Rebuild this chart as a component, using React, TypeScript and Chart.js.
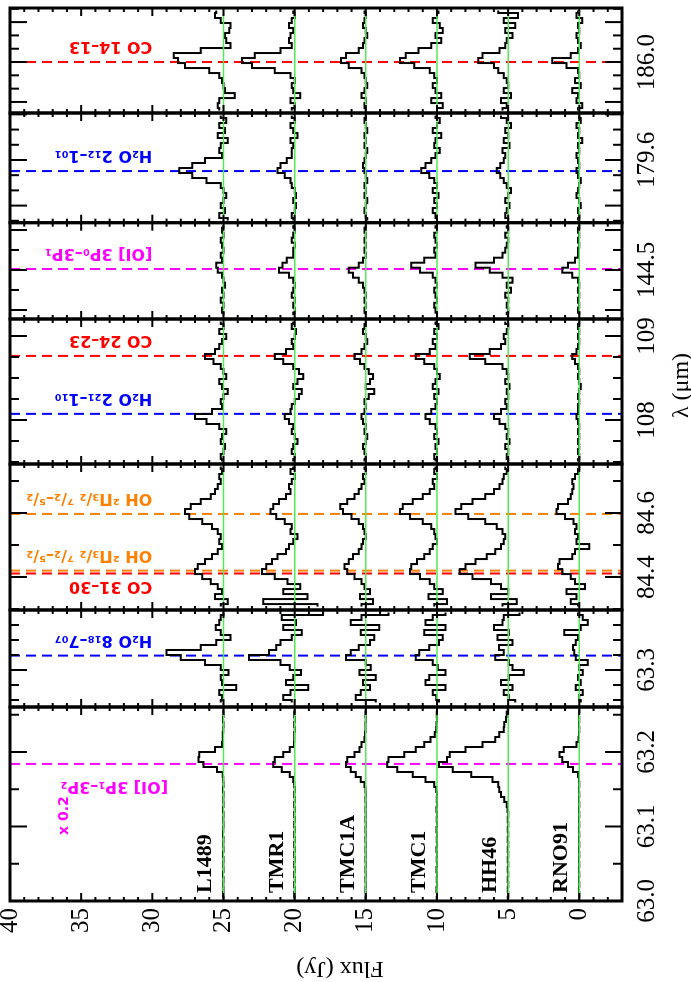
import { useEffect, useRef } from "react";
import { Chart, registerables } from "chart.js";

Chart.register(...registerables);

// Sources, each spectrum shifted by a constant flux offset (Jy)
const sourceNames = ["L1489", "TMR1", "TMC1A", "TMC1", "HH46", "RNO91"];
const sourceOffsets = [25, 20, 15, 10, 5, 0];

// Wavelength windows (µm). Bins run from the long-wavelength edge downward.
const panelIds = ["w1", "w2", "w3", "w4", "w5", "w6", "w7"];
const panelMin = [63.0, 63.2383, 84.297, 107.476, 144.01, 179.1875, 185.617];
const panelMax = [63.2604, 63.4, 84.753, 109.2024, 144.973, 179.909, 186.406];
const binWidth = [0.006711, 0.008333, 0.015625, 0.05952, 0.05, 0.0329, 0.0376];

// Axis ticks per window
const majorTicks = [
  [63.0, 63.1, 63.2],
  [63.3],
  [84.4, 84.6],
  [108, 109],
  [144.1, 144.5, 144.9],
  [179.3, 179.6, 179.9],
  [185.7, 186.0, 186.3],
];
const minorTicks = [
  [63.05, 63.15, 63.25],
  [63.25, 63.275, 63.325, 63.35, 63.375],
  [84.3, 84.5, 84.7],
  [107.5, 107.75, 108.25, 108.5, 108.75],
  [144.3, 144.7],
  [179.2, 179.4, 179.5, 179.7, 179.8],
  [185.8, 185.9, 186.1, 186.2, 186.4],
];
const labelTicks = [[63.0, 63.1, 63.2], [63.3], [84.4, 84.6], [108, 109], [144.5], [179.6], [186.0]];
const labelTexts = [["63.0", "63.1", "63.2"], ["63.3"], ["84.4", "84.6"], ["108", "109"], ["144.5"], ["179.6"], ["186.0"]];
const fluxTicks = [0, 5, 10, 15, 20, 25, 30, 35, 40];

// Continuum-subtracted flux (Jy) per bin; rows follow sourceNames
const fluxW1 = [
  [0.02, 0.0, 0.03, 0.0, 0.02, 0.05, 0.05, 0.1, 0.6, 1.7, 1.76, 1.4, 0.45, 0.05, 0.02, 0.0, 0.03, 0.0, 0.02, 0.0, 0.03, 0.0, 0.02, 0.0, 0.02, 0.03, 0.0, 0.02, 0.0, 0.03, 0.0, 0.02, 0.0, 0.03, 0.0, 0.02, 0.0, 0.03, 0.0],
  [0.0, 0.02, 0.0, 0.03, 0.0, 0.02, 0.03, 0.05, 0.35, 0.8, 1.4, 1.5, 0.9, 0.35, 0.1, 0.03, 0.0, 0.02, 0.0, 0.03, 0.0, 0.02, 0.0, 0.03, 0.0, 0.02, 0.0, 0.03, 0.0, 0.02, 0.0, 0.03, 0.0, 0.02, 0.0, 0.03, 0.0, 0.02, 0.0],
  [0.0, 0.02, 0.0, 0.03, 0.02, 0.05, 0.1, 0.3, 0.45, 0.8, 1.3, 1.4, 1.05, 0.7, 0.35, 0.1, 0.03, 0.0, 0.02, 0.0, 0.03, 0.0, 0.02, 0.0, 0.03, 0.0, 0.02, 0.0, 0.03, 0.0, 0.02, 0.0, 0.03, 0.0, 0.02, 0.0, 0.03, 0.0, 0.02],
  [0.0, 0.02, 0.0, 0.03, 0.05, 0.15, 0.45, 0.9, 1.5, 2.3, 3.4, 3.5, 2.8, 1.7, 0.8, 0.2, 0.05, 0.0, 0.02, 0.0, 0.03, 0.0, 0.02, 0.0, 0.03, 0.0, 0.02, 0.0, 0.03, 0.0, 0.02, 0.0, 0.03, 0.0, 0.02, 0.0, 0.03, 0.0, 0.02],
  [0.05, 0.1, 0.15, 0.28, 0.3, 0.63, 0.9, 1.8, 3.0, 4.1, 4.3, 4.85, 3.9, 2.6, 1.1, 0.7, 0.63, 0.5, 0.28, 0.1, 0.05, 0.0, 0.03, 0.0, 0.02, 0.0, 0.03, 0.0, 0.02, 0.0, 0.03, 0.0, 0.02, 0.0, 0.03, 0.0, 0.02, 0.0, 0.03],
  [0.0, 0.02, 0.0, 0.03, 0.0, 0.02, 0.05, 0.2, 1.1, 1.4, 1.2, 0.8, 0.45, 0.1, 0.03, 0.0, 0.02, 0.0, 0.03, 0.0, 0.02, 0.0, 0.03, 0.0, 0.02, 0.0, 0.03, 0.0, 0.02, 0.0, 0.03, 0.0, 0.02, 0.0, 0.03, 0.0, 0.02, 0.0, 0.03],
];
const fluxW2 = [
  [0.0, 0.2, 0.3, 0.55, 0.2, -0.5, 0.5, 1.6, 4.0, 3.0, 1.3, 0.2, -0.35, 0.2, 0.1, -0.9, 0.3, 0.1, 0.2],
  [-2.0, 0.9, -0.1, 0.8, -0.5, 0.2, 1.0, 1.3, 1.8, 3.2, 1.0, 0.35, -0.45, 0.1, 0.6, -0.95, 0.3, 0.8, 0.2],
  [-1.6, 0.3, 1.05, -0.95, 0.35, -0.6, -0.3, 0.5, 1.05, 1.4, 0.0, -0.35, 0.45, -0.7, 0.2, -0.3, 0.35, 0.7, -0.7],
  [-0.6, 0.3, 0.8, -0.6, 0.9, -0.4, -0.15, 0.55, 1.25, 1.5, 0.3, -0.05, -0.6, 0.55, 0.8, -0.6, 0.3, 0.05, -0.15],
  [-0.8, 0.3, 0.4, 1.0, -0.05, 0.75, -0.3, 0.65, 0.3, 0.9, -0.05, -0.3, -1.1, -0.05, 0.5, -0.3, 0.3, -0.05, -0.5],
  [0.1, -0.25, -0.6, -0.1, 1.05, 0.1, 0.25, 0.45, 0.35, 0.25, -0.6, 0.0, -0.25, 0.1, -0.1, 0.25, -0.25, 0.0, -0.1],
];
const fluxW3 = [
  [0.2, 0.1, 0.3, 0.2, 0.4, 0.6, 0.9, 1.6, 2.3, 2.7, 2.4, 1.5, 0.8, 0.4, 0.2, 0.3, 0.1, 0.4, 0.8, 1.3, 1.8, 2.0, 1.5, 0.9, 0.4, 0.1, 0.6, -0.3, 0.2],
  [0.1, 0.3, 0.0, 0.2, 0.4, 0.3, 0.6, 1.1, 1.5, 1.7, 1.3, 0.7, 0.2, 0.3, -0.2, 0.1, 0.4, 0.6, 1.2, 1.6, 2.0, 2.3, 1.4, 0.5, -0.4, 0.8, -0.9, 2.2, -1.6],
  [0.1, 0.0, 0.2, 0.1, 0.3, 0.5, 0.8, 1.3, 1.8, 1.6, 1.0, 0.5, 0.2, 0.1, 0.0, 0.2, 0.3, 0.5, 0.9, 1.2, 1.5, 1.3, 0.8, 0.3, 0.1, -0.3, 0.4, -0.5, 0.3],
  [0.1, 0.2, 0.0, 0.3, 0.2, 0.5, 1.0, 1.7, 2.4, 2.6, 1.9, 1.0, 0.4, 0.2, 0.1, 0.0, 0.3, 0.5, 0.9, 1.4, 1.8, 1.9, 1.2, 0.5, 0.2, -0.4, 0.6, -0.7, 0.2],
  [0.2, 0.1, 0.3, 0.4, 0.6, 1.0, 1.6, 2.5, 3.3, 3.7, 2.8, 1.6, 0.8, 0.4, 0.2, 0.3, 0.5, 0.9, 1.5, 2.3, 3.0, 3.4, 2.5, 1.2, 0.5, 0.0, 1.2, -0.6, 0.4],
  [0.0, 0.1, 0.3, 0.5, 0.4, 0.5, 0.6, 0.8, 1.5, 1.6, 1.0, 0.4, 0.2, 0.3, 0.1, 0.2, -0.7, 0.3, 0.5, 1.4, 1.5, 1.2, 0.6, 0.3, -0.4, 0.9, 0.2, 0.6, 0.1],
];
const fluxW4 = [
  [0.2, 0.0, 0.3, -0.2, 0.1, 0.3, 0.6, 1.3, 0.7, 0.2, 0.0, -0.2, 0.3, 0.1, -0.3, 0.0, 0.2, 0.1, 0.8, 2.0, 1.2, 0.3, -0.2, 0.1, 0.2, -0.1, 0.0, 0.2, 0.1],
  [0.1, 0.2, -0.1, 0.0, 0.2, 0.1, 0.6, 1.4, 0.8, 0.1, -0.3, -0.6, -0.2, 0.1, -0.5, -0.3, 0.0, 0.2, 0.3, 0.7, 0.4, 0.1, 0.2, 0.0, -0.2, 0.1, 0.2, 0.0, 0.1],
  [0.0, 0.1, 0.2, 0.0, -0.1, 0.1, 0.3, 0.8, 0.4, 0.1, -0.2, -0.5, -0.3, 0.0, -0.6, -0.2, 0.1, 0.0, 0.1, 0.3, 0.2, 0.0, 0.1, -0.1, 0.0, 0.2, 0.1, 0.0, 0.1],
  [0.1, -0.1, 0.2, 0.0, 0.3, 0.1, 0.5, 1.5, 0.9, 0.2, 0.0, -0.2, 0.1, 0.3, -0.1, 0.2, 0.0, 0.1, 0.4, 0.8, 0.5, 0.1, 0.0, 0.2, -0.1, 0.1, 0.0, 0.2, 0.1],
  [0.2, 0.0, 0.1, 0.3, 0.2, 0.5, 1.3, 2.7, 1.6, 0.4, 0.1, 0.0, 0.2, -0.1, 0.1, 0.0, 0.2, 0.1, 0.5, 1.0, 0.6, 0.2, 0.0, 0.1, -0.1, 0.2, 0.0, 0.1, 0.0],
  [0.0, 0.1, 0.0, 0.1, 0.0, 0.1, 0.2, 0.5, 0.3, 0.1, 0.0, 0.1, 0.0, -0.1, 0.0, 0.1, 0.0, 0.1, 0.1, 0.2, 0.1, 0.0, 0.1, 0.0, 0.1, 0.0, 0.1, 0.0, 0.1],
];
const fluxW5 = [
  [0.0, 0.1, 0.0, 0.2, 0.1, 0.0, 0.2, 0.1, 0.5, 0.4, 0.1, 0.0, -0.1, 0.1, 0.0, 0.2, 0.0, 0.1, 0.0],
  [0.1, 0.0, 0.1, 0.2, 0.0, 0.1, 0.1, 0.55, 0.85, 1.1, 0.4, 0.1, 0.0, 0.1, 0.2, 0.0, 0.1, 0.0, 0.1],
  [0.0, 0.1, 0.0, 0.1, 0.0, 0.1, 0.0, 0.2, 0.5, 1.2, 0.9, 0.5, 0.2, 0.1, 0.0, 0.1, 0.0, 0.1, 0.0],
  [0.1, 0.0, 0.2, 0.1, 0.0, 0.2, 0.1, 0.9, 1.8, 1.2, 0.3, 0.1, 0.0, 0.2, 0.1, 0.0, 0.2, 0.1, 0.0],
  [0.1, 0.0, 0.2, 0.0, 0.1, 0.2, 0.4, 1.0, 2.3, 1.3, 0.4, -0.3, 0.1, -0.2, 0.2, 0.0, 0.1, 0.0, 0.1],
  [0.0, 0.1, 0.0, 0.1, 0.0, 0.1, 0.1, 0.3, 0.8, 1.2, 0.5, 0.1, 0.0, 0.1, 0.0, 0.1, 0.0, 0.1, 0.0],
];
const fluxW6 = [
  [0.2, -0.2, 0.3, -0.1, 0.4, -0.3, 0.2, 0.3, 0.1, 1.3, 2.2, 3.1, 2.2, 1.2, 0.2, 0.0, -0.2, 0.0, 0.2, -0.1, 0.3, -0.3],
  [0.2, 0.0, 0.3, 0.1, -0.2, 0.3, 0.1, 0.2, 0.2, 0.55, 1.0, 1.2, 0.7, 0.3, 0.2, 0.0, -0.1, 0.1, -0.1, 0.0, 0.2, 0.1],
  [0.0, 0.1, 0.0, -0.1, 0.1, 0.0, 0.1, -0.1, 0.0, 0.1, 0.2, 0.1, 0.0, -0.1, 0.1, 0.0, 0.1, -0.1, 0.0, 0.1, 0.0, -0.1],
  [0.1, -0.2, 0.0, 0.3, -0.3, 0.1, 0.2, -0.2, 0.1, 0.4, 0.8, 1.1, 0.55, 0.2, 0.0, 0.3, -0.1, 0.2, 0.0, 0.3, 0.1, 0.0],
  [0.5, 0.1, -0.2, 0.2, 0.0, 0.3, -0.1, 0.4, 0.2, 0.3, 0.55, 0.8, 0.55, 0.3, 0.1, -0.2, 0.0, 0.2, -0.1, 0.1, 0.2, 0.0],
  [0.0, -0.1, 0.2, 0.0, 0.1, -0.2, 0.1, 0.0, 0.2, 0.1, 0.0, 0.2, 0.1, -0.1, 0.0, 0.1, 0.2, 0.0, -0.1, 0.1, 0.0, 0.1],
];
const fluxW7 = [
  [0.5, 0.6, 0.2, -0.5, -0.4, -0.1, -0.2, -0.5, 1.6, 3.5, 3.2, 2.7, 1.0, 0.3, 0.1, 0.0, -0.1, -0.8, 0.3, 0.4, 0.3],
  [0.1, 0.0, 0.2, 0.4, 0.1, 0.3, 0.4, 0.2, 1.0, 2.8, 3.7, 3.0, 1.4, 0.3, 0.0, 0.2, 0.1, -0.4, 0.3, 0.0, 0.2],
  [0.1, 0.0, 0.1, 0.2, 0.0, -0.1, 0.1, 0.2, 0.5, 1.4, 1.75, 1.2, 0.3, 0.1, 0.0, -0.1, 0.1, 0.3, 0.0, 0.1, 0.0],
  [-0.1, 0.0, 0.3, -0.2, -0.4, 0.1, -0.3, 0.4, 1.3, 2.2, 2.6, 1.6, 0.5, 0.2, 0.0, 0.3, 0.1, -0.3, 0.4, -0.4, 0.0],
  [0.7, -0.7, 0.3, -0.5, 0.2, -0.3, 0.1, 0.2, 0.6, 1.8, 2.1, 1.0, 0.7, 0.3, 0.1, 0.0, 0.3, -0.2, 0.5, 0.1, 0.4],
  [0.1, 0.2, -0.2, 0.1, 0.0, 0.2, 0.1, -0.1, 0.1, 0.6, 1.9, 0.9, 0.1, 0.0, 0.3, -0.1, 0.5, 0.1, 0.2, -0.2, 0.1],
];
const panelFlux = [fluxW1, fluxW2, fluxW3, fluxW4, fluxW5, fluxW6, fluxW7];

// Line identifications
const lineWave = [63.184, 63.324, 84.411, 84.42, 84.597, 108.073, 108.763, 144.51, 179.527, 186.0];
const linePanel = [0, 1, 2, 2, 2, 3, 3, 4, 5, 6];
const lineName = [
  "[OI] 3P₁–3P₂",
  "H₂O 8₁₈–7₀₇",
  "CO 31–30",
  "OH ²Π₃/₂ ⁷/₂–⁵/₂",
  "OH ²Π₃/₂ ⁷/₂–⁵/₂",
  "H₂O 2₂₁–1₁₀",
  "CO 24–23",
  "[OI] 3P₀–3P₁",
  "H₂O 2₁₂–1₀₁",
  "CO 14–13",
];
const lineColor = ["#ff00ff", "#0000ff", "#ff0000", "#ff8000", "#ff8000", "#0000ff", "#ff0000", "#ff00ff", "#0000ff", "#ff0000"];
// Label placement: baseline shift from the line (px) and flux where the text begins
const labelShift = [-18, 20, -9, 20, 20, 20, 20, 20, 20, 20];
const labelStartFlux = [28.9, 30.0, 30.0, 30.0, 30.0, 30.0, 30.0, 30.0, 30.0, 30.0];

// Horizontal share of each window (px)
const panelWeight = [194, 97, 146, 145, 96.3, 109.7, 105];

const serif = '"Liberation Serif", "Times New Roman", serif';
const sans = '"DejaVu Sans", sans-serif';

const decorations = {
  id: "decorations",
  beforeDatasetsDraw(chart: any) {
    const { ctx, chartArea } = chart;
    ctx.save();
    ctx.beginPath();
    ctx.rect(chartArea.left, chartArea.top, chartArea.right - chartArea.left, chartArea.bottom - chartArea.top);
    ctx.clip();
    ctx.lineWidth = 2;
    ctx.setLineDash([10, 6]);
    lineWave.forEach((w, i) => {
      const xs = chart.scales[panelIds[linePanel[i]]];
      const x = xs.getPixelForValue(w);
      ctx.strokeStyle = lineColor[i];
      ctx.beginPath();
      ctx.moveTo(x, chartArea.top);
      ctx.lineTo(x, chartArea.bottom);
      ctx.stroke();
    });
    ctx.restore();
  },
  afterDatasetsDraw(chart: any) {
    const { ctx, chartArea } = chart;
    const ys = chart.scales.y;
    const T = chartArea.top;
    const B = chartArea.bottom;
    ctx.save();

    // zero-level of each source
    ctx.strokeStyle = "rgb(80,235,80)";
    ctx.lineWidth = 1.5;
    sourceOffsets.forEach((off) => {
      const y = ys.getPixelForValue(off);
      ctx.beginPath();
      ctx.moveTo(chartArea.left, y);
      ctx.lineTo(chartArea.right, y);
      ctx.stroke();
    });

    // window frames with inward ticks
    ctx.strokeStyle = "#000";
    const seg = (x1: number, y1: number, x2: number, y2: number) => {
      ctx.beginPath();
      ctx.moveTo(x1, y1);
      ctx.lineTo(x2, y2);
      ctx.stroke();
    };
    panelIds.forEach((id, p) => {
      const xs = chart.scales[id];
      const L = xs.left;
      const R = xs.right;
      ctx.lineWidth = 2;
      const marks = (vals: number[], len: number) =>
        vals.forEach((v) => {
          const x = xs.getPixelForValue(v);
          seg(x, B, x, B - len);
          seg(x, T, x, T + len);
        });
      marks(majorTicks[p], 17);
      marks(minorTicks[p], 9);
      for (let f = Math.ceil(ys.min); f <= ys.max; f++) {
        const y = ys.getPixelForValue(f);
        const len = f % 5 === 0 ? 8 : 4;
        seg(L, y, L + len, y);
        seg(R, y, R - len, y);
      }
      ctx.lineWidth = 3;
      ctx.strokeRect(L, T, R - L, B - T);
    });

    // source names
    ctx.fillStyle = "#000";
    ctx.font = `bold 22px ${serif}`;
    ctx.textAlign = "left";
    ctx.textBaseline = "alphabetic";
    sourceNames.forEach((n, i) => {
      ctx.fillText(n, chartArea.left + 8, ys.getPixelForValue(sourceOffsets[i]) - 12);
    });

    // line identifications
    ctx.font = `bold 16px ${sans}`;
    lineName.forEach((t, i) => {
      const xs = chart.scales[panelIds[linePanel[i]]];
      const x = xs.getPixelForValue(lineWave[i]) + labelShift[i];
      const y = ys.getPixelForValue(labelStartFlux[i]);
      ctx.save();
      ctx.translate(x, y);
      ctx.rotate(-Math.PI / 2);
      ctx.fillStyle = lineColor[i];
      ctx.fillText(t, 0, 0);
      ctx.restore();
    });

    // scale factor of the first window
    ctx.fillStyle = "#ff00ff";
    ctx.font = `bold 14px ${sans}`;
    ctx.fillText("x 0.2", chartArea.left + 66, T + 58);

    // axis titles
    ctx.fillStyle = "#000";
    ctx.font = `24px ${serif}`;
    ctx.textAlign = "center";
    const w4 = chart.scales.w4;
    ctx.fillText("λ (μm)", (w4.left + w4.right) / 2 + 6, B + 66);
    ctx.save();
    ctx.translate(20, 340);
    ctx.rotate(-Math.PI / 2);
    ctx.fillText("Flux (Jy)", 0, 0);
    ctx.restore();

    ctx.restore();
  },
};

function buildScales() {
  const scales: any = {
    y: {
      type: "linear",
      position: "left",
      min: -3,
      max: 40,
      grid: { display: false, drawTicks: false },
      border: { display: false },
      ticks: { color: "#000", padding: 7, font: { family: serif, size: 25, lineHeight: 1 } },
      afterBuildTicks: (s: any) => {
        s.ticks = fluxTicks.map((v) => ({ value: v }));
      },
      afterFit: (s: any) => {
        s.width = 81;
        s.paddingTop = 0;
        s.paddingBottom = 0;
      },
    },
  };
  panelIds.forEach((id, p) => {
    scales[id] = {
      type: "linear",
      axis: "x",
      position: "bottom",
      stack: "lambda",
      stackWeight: panelWeight[p],
      weight: p,
      min: panelMin[p],
      max: panelMax[p],
      grid: { display: false, drawTicks: false },
      border: { display: false },
      ticks: {
        color: "#000",
        padding: 13,
        autoSkip: false,
        maxRotation: 0,
        minRotation: 0,
        font: { family: serif, size: 25, lineHeight: 1 },
        callback: (v: number) => {
          const k = labelTicks[p].indexOf(v);
          return k >= 0 ? labelTexts[p][k] : "";
        },
      },
      afterBuildTicks: (s: any) => {
        s.ticks = labelTicks[p].map((v) => ({ value: v }));
      },
      afterFit: (s: any) => {
        s.height = 69;
        s.paddingLeft = 0;
        s.paddingRight = 0;
      },
    };
  });
  return scales;
}

function buildDatasets() {
  const sets: any[] = [];
  panelIds.forEach((id, p) => {
    sourceNames.forEach((name, s) => {
      sets.push({
        label: `${name} ${id}`,
        xAxisID: id,
        yAxisID: "y",
        data: panelFlux[p][s].map((v, k) => ({
          x: panelMax[p] - (k + 0.5) * binWidth[p],
          y: sourceOffsets[s] + v,
        })),
        borderColor: "#000",
        borderWidth: 2,
        pointRadius: 0,
        stepped: "middle",
        fill: false,
      });
    });
  });
  return sets;
}

export default function App() {
  const ref = useRef<HTMLCanvasElement | null>(null);
  useEffect(() => {
    if (!ref.current) return;
    const chart = new Chart(ref.current, {
      type: "line",
      data: { datasets: buildDatasets() },
      options: {
        animation: false,
        responsive: false,
        maintainAspectRatio: false,
        devicePixelRatio: 1,
        layout: { padding: { left: 0, right: 8, top: 10, bottom: 0 } },
        plugins: { legend: { display: false }, tooltip: { enabled: false } },
        scales: buildScales(),
      } as any,
      plugins: [decorations],
    });
    return () => chart.destroy();
  }, []);

  return (
    <div style={{ position: "fixed", left: 0, top: 0, width: 691, height: 982, overflow: "hidden", background: "#fff" }}>
      <div
        style={{
          position: "absolute",
          left: 0,
          top: 0,
          width: 982,
          height: 691,
          transformOrigin: "0 0",
          transform: "translate(0px, 982px) rotate(-90deg)",
        }}
      >
        <canvas ref={ref} width={982} height={691} style={{ display: "block", width: 982, height: 691 }} />
      </div>
    </div>
  );
}
